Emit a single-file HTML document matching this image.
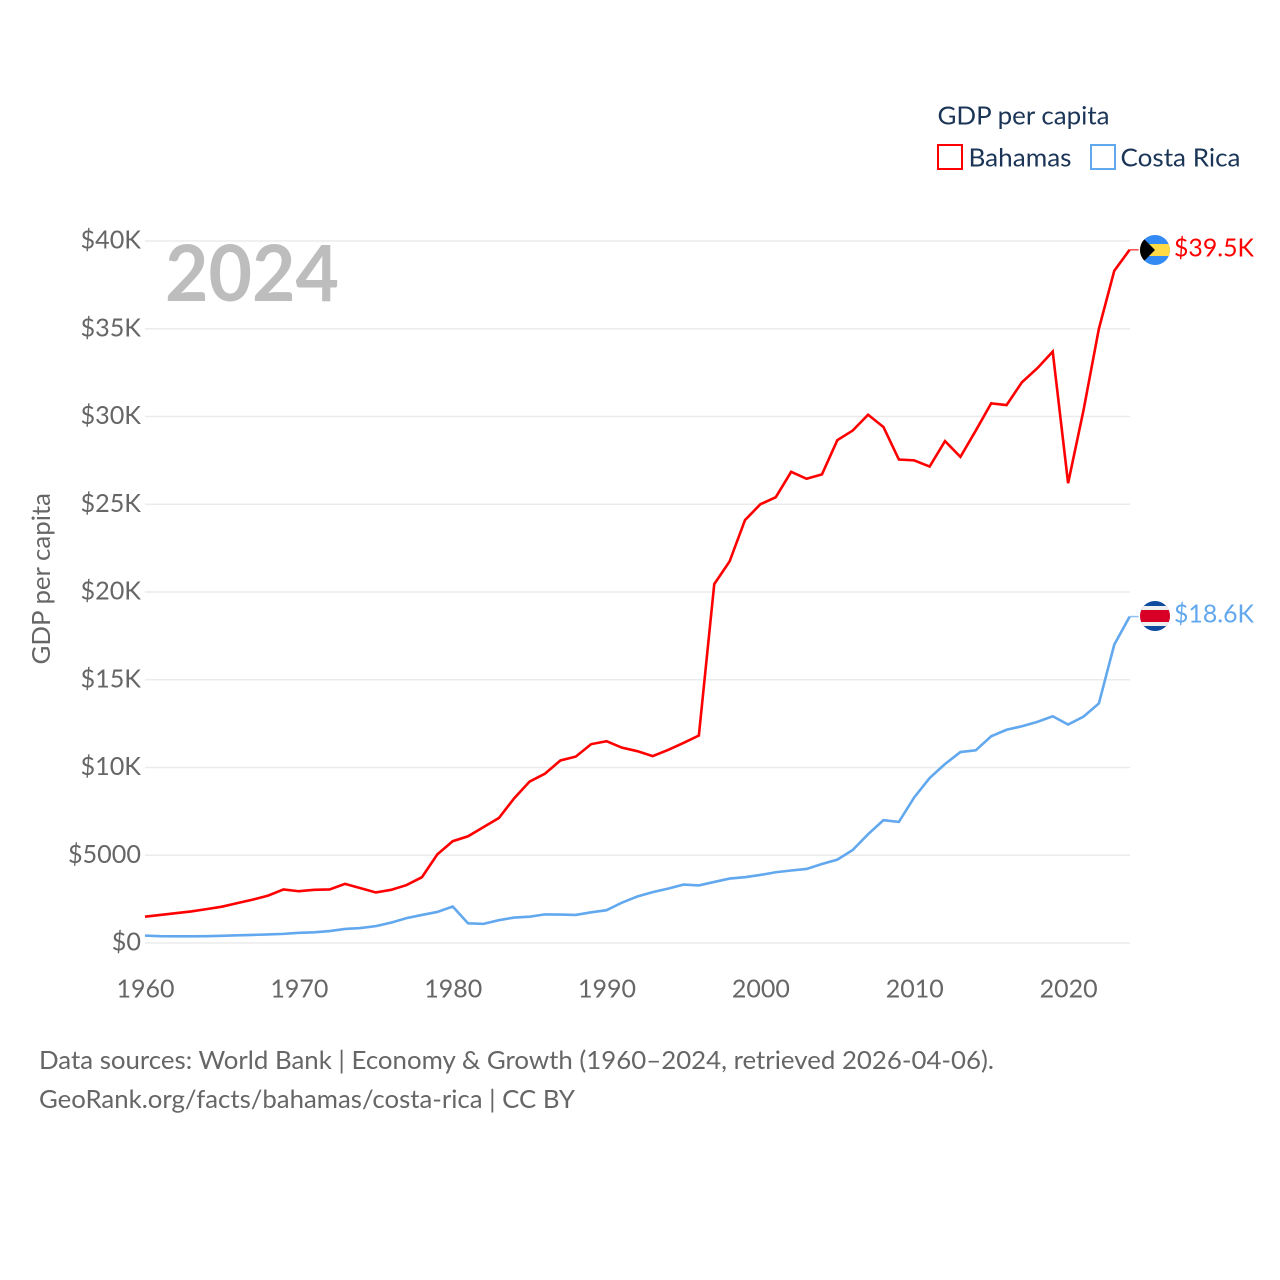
<!DOCTYPE html>
<html lang="en">
<head>
<meta charset="utf-8">
<title>GDP per capita: Bahamas and Costa Rica</title>
<style>
html,body{margin:0;padding:0;background:#fff;width:1280px;height:1280px;overflow:hidden}
svg{display:block;font-family:"Lato","Carlito","Liberation Sans",sans-serif}
</style>
</head>
<body>
<svg id="chart" width="1280" height="1280" viewBox="0 0 1280 1280" xmlns="http://www.w3.org/2000/svg">
  <rect x="0" y="0" width="1280" height="1280" fill="#fff"/>
  <g id="grid"></g>
  <g id="yticks"></g>
  <g id="xticks"></g>
  <text x="165" y="301" font-size="78" font-weight="700" fill="#bdbdbd" textLength="174" lengthAdjust="spacingAndGlyphs">2024</text>
  <text transform="translate(50,664.5) rotate(-90)" font-size="25" fill="#666" textLength="171.5" lengthAdjust="spacingAndGlyphs">GDP per capita</text>
  <g id="series"></g>

  <g>
    <clipPath id="clipB"><circle id="flagClipB" cx="1155" cy="250" r="15"/></clipPath>
    <g id="flagB" clip-path="url(#clipB)">
      <rect x="1140" y="235" width="30" height="30" fill="#338af3"/>
      <rect x="1140" y="244" width="30" height="12" fill="#ffda44"/>
      <path d="M1140 235 L1155 250 L1140 265 Z" fill="#000"/>
    </g>
  </g>
  <g>
    <clipPath id="clipC"><circle cx="1155" cy="616" r="15"/></clipPath>
    <g clip-path="url(#clipC)">
      <rect x="1140" y="601" width="30" height="30" fill="#0d4aa0"/>
      <rect x="1140" y="606" width="30" height="20" fill="#f0f0f0"/>
      <rect x="1140" y="610" width="30" height="12" fill="#d80027"/>
    </g>
  </g>
  <text id="valB" x="1174" y="256.5" font-size="25" fill="#ff0000" textLength="80" lengthAdjust="spacingAndGlyphs">$39.5K</text>
  <text id="valC" x="1174" y="622.5" font-size="25" fill="#62a8ee" textLength="80" lengthAdjust="spacingAndGlyphs">$18.6K</text>

  <g>
    <text x="937.5" y="124.5" font-size="25" fill="#1b3556" textLength="172" lengthAdjust="spacingAndGlyphs">GDP per capita</text>
    <rect x="938" y="145" width="24" height="24" fill="#fff" stroke="#ff0000" stroke-width="2"/>
    <text x="968.5" y="166.5" font-size="25" fill="#1b3556" textLength="103" lengthAdjust="spacingAndGlyphs">Bahamas</text>
    <rect x="1091" y="145" width="24" height="24" fill="#fff" stroke="#62a8ee" stroke-width="2"/>
    <text x="1120.5" y="166.5" font-size="25" fill="#1b3556" textLength="120" lengthAdjust="spacingAndGlyphs">Costa Rica</text>
  </g>

  <g>
    <text x="39" y="1069" font-size="25" fill="#666" textLength="955" lengthAdjust="spacingAndGlyphs">Data sources: World Bank | Economy &amp; Growth (1960–2024, retrieved 2026-04-06).</text>
    <text x="39" y="1108" font-size="25" fill="#666" textLength="536" lengthAdjust="spacingAndGlyphs">GeoRank.org/facts/bahamas/costa-rica | CC BY</text>
  </g>
</svg>
<script>
const startYear = 1960;
const yTickValues = [0, 5, 10, 15, 20, 25, 30, 35, 40];
const yTickLabels = ["$0", "$5000", "$10K", "$15K", "$20K", "$25K", "$30K", "$35K", "$40K"];
const xTickYears = [1960, 1970, 1980, 1990, 2000, 2010, 2020];
const bahamasValues = [1.5,1.6,1.7,1.8,1.93,2.07,2.27,2.47,2.7,3.05,2.95,3.03,3.05,3.37,3.13,2.88,3.03,3.3,3.75,5.05,5.8,6.08,6.6,7.12,8.25,9.2,9.65,10.4,10.62,11.33,11.5,11.13,10.93,10.65,11.0,11.4,11.82,20.45,21.75,24.1,25.0,25.4,26.85,26.45,26.7,28.65,29.2,30.1,29.4,27.55,27.5,27.15,28.6,27.7,29.2,30.75,30.65,31.95,32.75,33.7,26.2,30.35,35.0,38.3,39.5];
const costaRicaValues = [0.42,0.39,0.38,0.38,0.39,0.41,0.44,0.46,0.49,0.52,0.58,0.61,0.68,0.8,0.85,0.96,1.16,1.42,1.6,1.77,2.08,1.12,1.09,1.3,1.45,1.5,1.63,1.62,1.6,1.75,1.87,2.3,2.65,2.9,3.1,3.33,3.28,3.48,3.67,3.75,3.88,4.03,4.13,4.22,4.5,4.75,5.3,6.2,7.0,6.9,8.3,9.4,10.2,10.88,10.98,11.78,12.15,12.35,12.6,12.92,12.45,12.9,13.65,17.0,18.6];

const NS = "http://www.w3.org/2000/svg";
const xScale = year => 145 + (year - 1960) * 15.385;
const yScale = value => 943 - value * 17.55;

function make(tag, attrs, parent, text) {
  const el = document.createElementNS(NS, tag);
  Object.keys(attrs).forEach(k => el.setAttribute(k, attrs[k]));
  if (text !== undefined) el.textContent = text;
  parent.appendChild(el);
  return el;
}

const grid = document.getElementById("grid");
const yticks = document.getElementById("yticks");
const xticks = document.getElementById("xticks");
const series = document.getElementById("series");

yTickValues.forEach((v, i) => {
  const line = make("line", {x1: 145, x2: 1130, y1: yScale(v), y2: yScale(v), stroke: "#ebebeb", "stroke-width": 1.5}, grid);
  
  
  const label = make("text", {x: 141, y: yScale(v) + 7.5, "text-anchor": "end", "font-size": 25.2, fill: "#666"}, yticks, yTickLabels[i]);
  
  
});

xTickYears.forEach(year => {
  const label = make("text", {x: xScale(year) + 0.5, y: 997.5, "text-anchor": "middle", "font-size": 25, fill: "#666"}, xticks, String(year));
  
  
});

function drawSeries(values, color, name) {
  const pts = values.map((v, i) => xScale(startYear + i).toFixed(2) + "," + yScale(v).toFixed(2)).join(" ");
  const line = make("polyline", {points: pts, fill: "none", stroke: color, "stroke-width": 2.6, "stroke-linejoin": "miter"}, series);
  
  
  const lastY = yScale(values[values.length - 1]);
  const lastX = xScale(startYear + values.length - 1);
  const lead = make("line", {x1: lastX, x2: lastX + 9, y1: lastY, y2: lastY, stroke: color, "stroke-width": 1.5, opacity: 0.7}, series);
  
  
  return lastY;
}

drawSeries(bahamasValues, "#ff0000", "bahamas");
drawSeries(costaRicaValues, "#62a8ee", "costa-rica");
</script>
</body>
</html>
